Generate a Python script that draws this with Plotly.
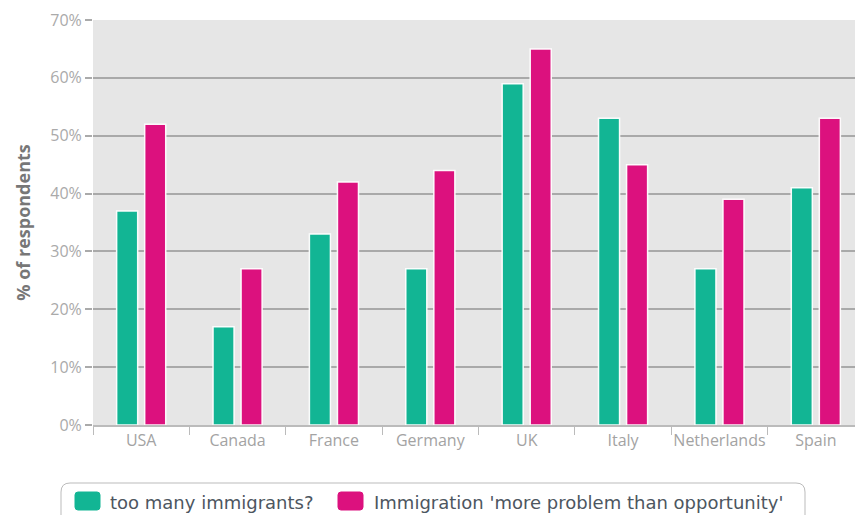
import plotly.graph_objects as go

categories = ["USA", "Canada", "France", "Germany", "UK", "Italy", "Netherlands", "Spain"]
too_many = [37, 17, 33, 27, 59, 53, 27, 41]
more_problem = [52, 27, 42, 44, 65, 45, 39, 53]
series_names = ["too many immigrants?", "Immigration 'more problem than opportunity'"]
y_ticks = [0, 10, 20, 30, 40, 50, 60, 70]
y_ticktext = [f"{v}%" for v in y_ticks]

GREEN = "#12b594"
PINK = "#dc117e"
FONT = "Open Sans"
W, H = 855, 515
ML, MR, MT, MB = 93, 0, 20, 90
PW, PH = W - ML - MR, H - MT - MB


def px(x):
    return (x - ML) / PW


def py(y):
    return (H - MB - y) / PH


fig = go.Figure()
colors = [GREEN, PINK]
for name, vals, col in zip(series_names, [too_many, more_problem], colors):
    fig.add_trace(go.Bar(
        x=categories, y=vals, name=name,
        marker=dict(color=col, line=dict(color="rgba(255,255,255,0.95)", width=1.5)),
        showlegend=False,
    ))

# legend box (rounded, cut off by the bottom of the page like the reference)
x0, x1, y0, y1, r = 61, 805, 483, 540, 9
path = (f"M {px(x0 + r)},{py(y0)} L {px(x1 - r)},{py(y0)} "
        f"Q {px(x1)},{py(y0)} {px(x1)},{py(y0 + r)} L {px(x1)},{py(y1)} "
        f"L {px(x0)},{py(y1)} L {px(x0)},{py(y0 + r)} "
        f"Q {px(x0)},{py(y0)} {px(x0 + r)},{py(y0)} Z")
shapes = [dict(type="path", xref="paper", yref="paper", path=path,
               line=dict(color="#bbbbbb", width=1), fillcolor="white", layer="above")]
annotations = []
sw_x = [75, 338]
tx_x = [108, 372]
for name, col, sx, tx in zip(series_names, colors, sw_x, tx_x):
    sx0, sx1, sy0, sy1, rr = sx, sx + 25, 492, 510, 3
    sp = (f"M {px(sx0 + rr)},{py(sy0)} L {px(sx1 - rr)},{py(sy0)} "
          f"Q {px(sx1)},{py(sy0)} {px(sx1)},{py(sy0 + rr)} L {px(sx1)},{py(sy1 - rr)} "
          f"Q {px(sx1)},{py(sy1)} {px(sx1 - rr)},{py(sy1)} L {px(sx0 + rr)},{py(sy1)} "
          f"Q {px(sx0)},{py(sy1)} {px(sx0)},{py(sy1 - rr)} L {px(sx0)},{py(sy0 + rr)} "
          f"Q {px(sx0)},{py(sy0)} {px(sx0 + rr)},{py(sy0)} Z")
    shapes.append(dict(type="path", xref="paper", yref="paper", path=sp,
                       line=dict(color=col, width=1), fillcolor=col, layer="above"))
    annotations.append(dict(xref="paper", yref="paper", x=px(tx), y=py(502),
                            xanchor="left", yanchor="middle", showarrow=False,
                            text=name, font=dict(family="DejaVu Sans", size=18, color="#4d5660")))

n = len(categories)
fig.update_layout(
    width=W, height=H,
    margin=dict(l=ML, r=MR, t=MT, b=MB),
    paper_bgcolor="white",
    plot_bgcolor="#e6e6e6",
    barmode="group",
    bargap=0.418,
    bargroupgap=0.25,
    font=dict(family=FONT, color="#999999"),
    showlegend=False,
    shapes=shapes,
    annotations=annotations,
    xaxis=dict(
        range=[-0.5, n - 0.5 - 9 / 96.2],
        tickson="boundaries",
        tickangle=0,
        ticks="outside", ticklen=8, tickcolor="#bbbbbb", tickwidth=1,
        showgrid=False,
        showline=True, linecolor="#bbbbbb", linewidth=2,
        tickfont=dict(family=FONT, size=16, color="#a3a3a3"),
        fixedrange=True,
    ),
    yaxis=dict(
        range=[0, 70],
        tickvals=y_ticks,
        ticktext=y_ticktext,
        ticks="outside", ticklen=7, tickcolor="#aaaaaa", tickwidth=1.5,
        showgrid=True, gridcolor="#a9a9a9", gridwidth=1.5,
        zeroline=False,
        tickfont=dict(family=FONT, size=16, color="#aaaaaa"),
        title=dict(text="<b>% of respondents</b>", font=dict(family=FONT, size=18, color="#777777"), standoff=14),
        fixedrange=True,
    ),
)

fig.write_html("out.html")
